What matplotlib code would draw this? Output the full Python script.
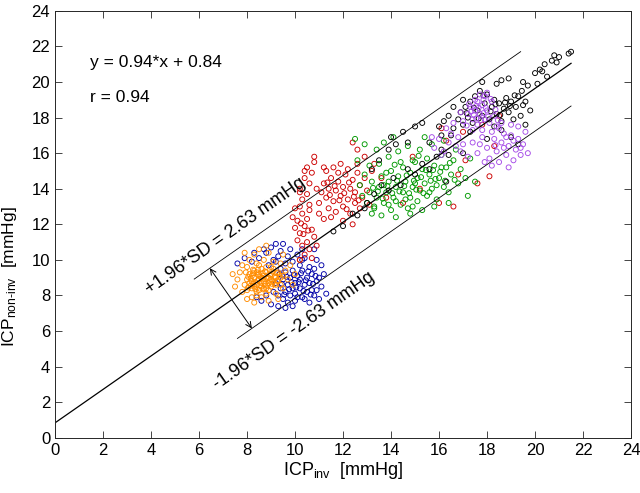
import numpy as np
import matplotlib
matplotlib.use("Agg")
import matplotlib.pyplot as plt

plt.rcParams['font.family'] = ['Liberation Sans', 'DejaVu Sans']
plt.rcParams['mathtext.fontset'] = 'custom'
plt.rcParams['mathtext.rm'] = 'Liberation Sans'
plt.rcParams['mathtext.it'] = 'Liberation Sans:italic'

slope = 0.94
intercept = 0.84
upper_off = 2.63
lower_off = -2.4   # lower limit line as it sits in the picture

# points, (ICP_inv, ICP_non-inv)
orange_pts = [(7.9,8.6),(8.0,8.9),(8.1,9.2),(8.2,8.4),(8.2,8.8),(8.3,9.0),(8.3,9.4),(8.4,8.6),
              (8.4,8.2),(8.5,8.9),(8.5,9.2),(8.6,8.5),(8.6,9.5),(8.7,8.8),(8.7,9.1),(8.8,8.4),
              (8.8,9.3),(8.9,8.7),(8.9,9.0),(9.0,8.5),(9.0,9.2),(9.1,8.8),(9.1,9.5),(9.2,8.6),
              (9.2,9.0),(9.3,8.8),(9.3,9.3),(9.4,9.0),(8.0,8.3),(8.1,8.7),(8.3,8.5),(8.4,9.3),
              (8.5,8.3),(8.6,9.0),(8.7,8.4),(8.8,9.6),(8.9,8.3),(9.0,8.9),(8.2,9.1),(8.6,8.7),
              (8.15,8.95),(8.35,8.75),(8.55,9.05),(8.75,8.65),(8.95,9.15),(9.15,9.05),(8.45,9.15),
              (8.65,9.25),(8.25,8.65),(9.05,8.65),(8.85,8.95),(9.25,9.25),
              (8.05,9.05),(8.15,8.55),(8.25,9.25),(8.35,8.35),(8.45,8.85),(8.55,8.55),(8.65,8.95),
              (8.75,9.35),(8.85,8.55),(8.95,8.85),(9.05,9.35),(9.15,8.65),(9.25,8.85),(9.35,9.15),
              (8.45,9.45),(8.25,9.45),(8.05,8.45),(8.65,8.35),(9.0,9.6),(8.5,9.7),(7.95,9.3),
              (9.4,8.6),(9.5,9.1),(8.8,8.1),(8.4,8.0),
              (7.6,8.9),(7.7,9.3),(7.5,8.5),(7.8,9.7),(7.8,8.2),(8.0,9.6),(8.1,10.0),(8.3,10.3),
              (8.5,10.6),(8.4,9.8),(8.7,10.0),(8.9,10.4),(9.1,9.9),(8.0,7.8),(8.3,7.6),(8.6,7.9),
              (8.9,7.7),(9.2,8.1),(9.5,8.4),(9.6,9.4),(9.7,8.9),(9.8,9.7),(10.0,9.2),(10.2,10.0),
              (9.4,9.8),(9.5,10.3),(7.9,10.4),(8.2,7.9),(9.3,7.8),(7.4,9.2),(9.9,8.6),(8.8,10.8)]

blue_pts = [(9.4,8.4),(9.5,8.9),(9.6,8.2),(9.6,9.3),(9.7,8.6),(9.8,8.0),(9.8,9.0),(9.9,8.4),
            (9.9,9.4),(10.0,8.7),(10.0,8.1),(10.1,9.1),(10.2,8.4),(10.2,8.9),(10.3,7.9),(10.3,9.4),
            (10.4,8.6),(10.5,8.2),(10.5,9.0),(10.6,8.7),(10.7,8.3),(10.7,9.2),(10.8,8.0),(10.9,8.8),
            (11.0,9.0),(9.5,7.8),(9.7,7.6),(10.0,7.7),(10.4,7.8),(9.3,8.0),(9.2,8.7),(9.4,9.5),
            (9.6,9.8),(9.9,9.9),(10.2,9.7),(10.6,9.6),(10.8,9.5),(11.1,8.5),(11.2,9.2),(10.9,8.3),
            (9.45,8.65),(9.65,9.05),(9.75,8.35),(9.85,8.75),(10.05,8.45),(10.15,8.75),(10.25,9.25),
            (10.35,8.25),(10.45,8.85),(10.55,9.35),(10.65,8.05),(10.75,8.65),(9.55,8.05),(9.95,9.15),
            (10.1,7.9),(10.85,9.1),(9.35,9.2),(10.3,10.0),(8.7,10.6),(9.3,10.2),
            (8.8,10.4),(9.0,10.7),(9.2,10.9),(9.4,10.5),(9.7,10.2),(9.1,10.0),(8.5,10.1),(8.2,9.9),
            (7.6,9.8),(7.9,10.1),(8.9,9.7),(9.5,10.9),(10.1,10.3),(10.4,10.1),(10.9,10.0),(11.1,9.7),
            (8.6,7.7),(9.0,7.5),(9.3,7.4),(9.9,7.4),(10.6,7.6),(11.0,7.8),(8.8,8.0),(9.1,8.2),
            (8.4,7.9),(9.2,9.9),(9.8,10.6),(10.3,10.6),(9.6,7.3),(10.8,10.6),(8.3,10.4),(11.3,8.1)]

red_pts = [(10.2,10.0),(10.4,10.3),(10.6,10.6),(10.3,10.8),(10.1,11.1),(10.5,11.0),(10.8,11.3),
           (10.2,11.5),(10.0,11.8),(10.4,11.9),(10.7,11.7),(10.1,12.2),(10.5,12.3),(10.3,12.6),
           (9.9,12.4),(10.6,12.8),(10.2,13.0),(10.0,12.9),(10.7,10.1),(10.9,10.8),
           (10.35,11.45),(10.55,11.65),(10.25,12.05),
           (10.3,13.4),(10.5,13.7),(10.2,14.0),(10.6,14.3),(10.4,14.6),(10.7,14.9),(10.5,15.2),
           (10.8,15.5),(10.2,13.8),(10.6,13.1),(10.9,14.0),(10.4,15.0),(10.8,15.8),(11.2,15.2),
           (11.0,13.2),(11.1,13.8),(11.2,14.3),(11.3,13.5),(11.4,12.9),(11.4,14.0),(11.5,14.6),
           (11.6,13.3),(11.7,13.9),(11.7,12.7),(11.8,14.4),(11.9,13.6),(12.0,14.1),(12.0,13.0),
           (12.1,14.8),(12.2,13.4),(12.3,14.0),(12.3,12.6),(12.4,14.5),(12.5,13.2),(12.5,13.8),
           (12.6,14.9),(12.7,12.9),(12.7,14.2),(12.8,13.5),(12.9,14.6),(13.0,13.9),(13.1,13.1),
           (13.2,15.0),(11.3,15.0),(11.6,15.2),(11.9,15.4),(12.2,15.1),(11.0,12.6),(11.5,12.4),
           (12.0,12.2),(12.4,12.0),(11.8,14.9),(12.6,15.4),(11.2,12.3),
           (11.45,13.65),(11.65,14.15),(11.85,13.35),(12.05,13.75),(12.25,14.35),(12.45,13.55),
           (12.15,12.85),(11.35,14.35),(12.65,13.35),
           (12.4,16.6),(12.6,16.2),(12.9,15.8),(13.3,15.4),(13.6,14.6),(13.8,13.5),(14.5,13.2),
           (15.2,14.0),(14.9,15.8),(16.0,13.2),(16.6,13.0),(16.8,14.8),(17.1,15.6),(16.3,16.7),
           (17.0,17.2),(17.8,17.6),(18.3,16.4),(18.1,14.7),(17.6,14.3),(16.1,17.4),(18.5,18.1)]

green_pts = [(13.0,13.2),(13.1,13.8),(13.2,14.4),(13.3,12.9),(13.4,13.5),(13.5,14.1),(13.6,14.7),
             (13.7,13.2),(13.8,13.8),(13.9,14.4),(14.0,12.8),(14.0,15.0),(14.1,13.5),(14.2,14.1),
             (14.3,14.7),(14.4,13.1),(14.5,13.8),(14.5,15.2),(14.6,14.4),(14.7,12.9),(14.8,13.5),
             (14.8,14.9),(14.9,14.1),(15.0,15.5),(15.1,13.3),(15.1,14.6),(15.2,13.9),(15.3,15.1),
             (15.4,14.3),(15.5,13.6),(15.5,15.7),(15.6,14.8),(15.7,14.0),(15.8,15.3),(15.9,13.4),
             (16.0,14.6),(16.1,15.9),(16.2,14.1),(16.3,15.2),(16.4,13.8),(16.5,14.8),(16.6,15.6),
             (16.8,14.3),(16.9,15.1),(17.1,14.6),
             (13.45,13.85),(13.65,13.45),(13.85,14.15),(14.05,13.75),(14.25,14.45),(14.35,13.85),
             (14.55,14.15),(14.65,14.75),(14.75,13.75),(14.95,14.45),(15.05,13.95),(15.25,14.65),
             (15.35,13.75),(15.45,15.05),(15.65,14.45),(15.75,15.05),(15.85,14.55),(16.05,14.95),
             (16.25,14.45),(16.45,15.45),(13.25,14.05),(14.15,15.35),(15.15,15.85),(16.65,14.5),
             (13.9,13.1),
             (13.2,12.6),(13.6,12.5),(14.2,12.4),(14.8,12.6),(15.3,12.8),(15.8,13.0),(13.5,15.4),
             (13.9,15.8),(14.3,16.1),(14.7,16.4),(15.2,16.2),(15.7,16.5),(16.2,16.7),(12.8,13.6),
             (12.7,14.2),(12.9,14.8),(13.1,15.3),(12.6,15.6),(13.4,16.2),(13.7,16.6),(14.1,16.9),
             (12.5,16.8),(12.9,16.5),(13.3,13.0),(13.8,14.9),(14.4,15.5),(14.9,13.0),(15.4,16.9),
             (16.7,16.2),(17.3,15.7),(17.5,14.4),(17.2,13.6),(16.4,13.2),(14.6,13.4),(15.0,14.3),
             (15.6,13.8),(13.7,14.2),(14.2,13.3),(14.9,15.6),(15.9,14.2),(16.1,15.2)]

black_pts = [(11.6,11.6),(12.0,11.9),(12.4,12.6),(12.6,12.5),(12.9,12.9),(13.0,13.2),(13.3,13.7),
             (13.6,14.2),(13.9,13.9),(14.1,14.6),(14.4,14.2),(14.7,15.1),(15.0,14.8),(15.3,15.4),
             (15.6,15.1),(15.9,15.8),(13.5,15.6),(13.9,16.2),(14.2,16.5),(14.0,16.9),(14.5,17.2),
             (15.0,17.5),(15.3,17.7),(14.7,16.6),(13.2,15.1),(16.1,16.2),(16.4,15.9),(15.6,16.6),
             (16.3,14.4),(17.0,16.0),
             (16.0,17.5),(16.2,17.8),(16.4,18.1),(16.6,17.4),(16.8,17.9),(16.9,18.3),(17.0,17.6),
             (17.1,18.6),(17.2,18.0),(17.3,18.9),(17.4,17.7),(17.5,19.2),(17.6,18.4),(17.7,19.5),
             (17.8,18.1),(17.9,18.8),(18.0,19.3),(18.1,17.9),(18.2,18.6),(18.3,19.0),(18.4,18.2),
             (18.5,18.8),(18.6,17.8),(18.7,18.5),(18.8,19.1),(18.9,18.3),(19.0,18.9),(19.1,17.9),
             (19.2,18.6),(19.3,19.2),(19.4,18.1),(19.5,18.7),(19.6,17.6),(18.6,17.3),(19.0,16.9),
             (19.3,16.5),(18.0,16.8),(17.3,17.2),(16.6,18.6),(17.0,19.0),(18.4,19.9),(18.6,20.1),
             (18.9,20.2),(19.5,20.0),(19.7,19.8),(17.8,20.0),(18.3,17.5),(19.8,18.4),
             (17.15,18.25),(17.45,18.55),(17.65,17.95),(17.85,19.25),(18.15,18.35),(18.35,18.75),
             (18.55,18.15),(18.75,18.85),(18.95,18.65),(19.15,19.25),(19.45,19.5),(19.6,18.9),
             (16.5,17.0),(16.1,17.0),
             (20.0,20.5),(20.2,20.7),(20.4,21.0),(20.3,20.6),(20.7,21.2),(20.8,21.5),(21.0,21.4),
             (20.9,21.1),(21.4,21.6),(21.5,21.7),(20.1,19.9),(20.5,20.3)]

purple_pts = [(17.2,18.2),(17.3,18.6),(17.4,17.9),(17.5,18.4),(17.6,18.9),(17.6,17.6),(17.7,18.2),
              (17.8,18.7),(17.9,17.9),(17.9,19.2),(18.0,18.4),(18.1,17.7),(18.2,18.9),(18.3,18.1),
              (18.4,17.5),(17.5,19.0),(17.7,19.3),(18.0,19.4),(17.4,17.3),(17.0,17.8),(16.9,18.3),
              (17.8,17.3),(18.2,17.2),(17.35,18.35),(17.65,18.55),(17.85,18.25),(17.55,17.95),
              (17.25,18.75),(17.45,18.15),(17.55,18.65),(17.75,17.85),(17.95,18.55),(18.05,18.05),
              (18.15,19.05),(18.35,18.45),(18.45,17.85),(17.15,17.55),(17.85,19.0),(18.6,17.7),
              (18.7,16.3),(18.35,16.45),(19.1,16.7),(18.8,16.9),(17.7,16.5),(19.4,16.3),
              (15.8,16.3),(16.0,16.8),(16.2,16.1),(16.4,16.6),(16.5,17.1),(16.7,16.4),(16.8,16.9),
              (16.3,17.4),(16.6,17.7),(16.1,15.9),(15.7,16.9),(16.9,16.1),
              (17.4,16.6),(17.6,16.0),(17.8,16.9),(18.0,16.3),(18.1,15.7),(18.3,16.8),(18.4,16.1),
              (18.5,15.5),(18.6,16.6),(18.7,17.1),(18.8,15.9),(18.9,16.4),(19.0,17.0),(19.1,15.6),
              (19.2,16.2),(19.3,16.8),(19.4,15.9),(19.5,16.5),(19.6,17.2),(18.2,15.3),(18.9,15.2),
              (17.2,15.8),(17.0,16.5),(18.5,17.4),(19.0,17.6),(19.3,17.5),(17.9,15.5),(19.7,16.0)]

groups = [(blue_pts, '#0000a8'), (orange_pts, '#ff8c00'), (red_pts, '#cc0000'),
          (green_pts, '#009900'), (black_pts, '#000000'), (purple_pts, '#a64ce8')]

fig = plt.figure(figsize=(6.4, 4.93), dpi=100)
ax = fig.add_axes([0.086, 0.112, 0.9, 0.866])

for pts, col in groups:
    p = np.array(pts)
    ax.scatter(p[:, 0], p[:, 1], s=13, facecolors='none', edgecolors=col, linewidths=0.65)

# regression line and limits of agreement
xr = np.array([0, 21.5])
ax.plot(xr, slope*xr + intercept, color='k', lw=0.9)
xu = np.array([5.8, 19.4])
ax.plot(xu, slope*xu + intercept + upper_off, color='k', lw=0.6)
xl = np.array([7.6, 21.5])
ax.plot(xl, slope*xl + intercept + lower_off, color='k', lw=0.6)

xa, xb = 6.45, 8.2
ax.annotate('', xy=(xb, slope*xb + intercept + lower_off),
            xytext=(xa, slope*xa + intercept + upper_off),
            arrowprops=dict(arrowstyle='<->', color='k', lw=0.7, mutation_scale=10,
                            shrinkA=0, shrinkB=0))

ax.text(7.1, 11.35, '+1.96*SD = 2.63 mmHg', rotation=35, rotation_mode='anchor',
        ha='center', va='center', fontsize=13)
ax.text(9.95, 6.0, '-1.96*SD = -2.63 mmHg', rotation=35, rotation_mode='anchor',
        ha='center', va='center', fontsize=13)

ax.text(1.45, 21.1, 'y = 0.94*x + 0.84', fontsize=12.5, va='center')
ax.text(1.45, 19.15, 'r = 0.94', fontsize=12.5, va='center')

ax.set_xlim(0, 24)
ax.set_ylim(0, 24)
ax.set_xticks(np.arange(0, 25, 2))
ax.set_yticks(np.arange(0, 25, 2))
ax.tick_params(direction='in', top=True, right=True, length=5, width=0.6,
               labelsize=12, color='#262626')
for s in ax.spines.values():
    s.set_linewidth(0.7)
    s.set_color('#262626')

ax.set_xlabel(r'ICP$_{\rm inv}$  [mmHg]', fontsize=13, labelpad=2)
ax.set_ylabel(r'ICP$_{\rm non\text{-}inv}$  [mmHg]', fontsize=12.5)
ax.yaxis.set_label_coords(-0.062, 0.377)

fig.savefig('out.png', dpi=100)
